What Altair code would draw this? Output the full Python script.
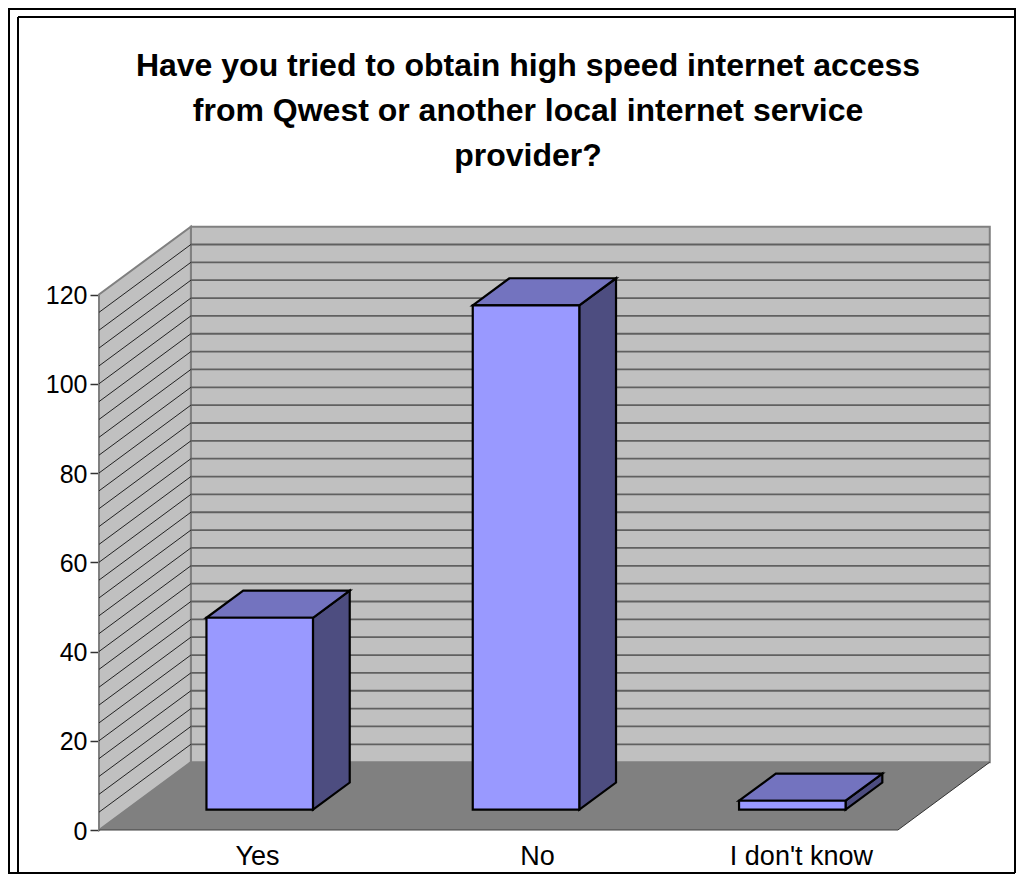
import altair as alt
import pandas as pd

# ---- values
categories = ["Yes", "No", "I don't know"]
responses = [43, 113, 2]
y_ticks = [0, 20, 40, 60, 80, 100, 120]
grid_values = list(range(4, 120, 4))
label_positions = [0.593, 1.645, 2.636]
title_lines = [
    "Have you tried to obtain high speed internet access",
    "from Qwest or another local internet service",
    "provider?",
]

# ---- oblique 3D projection, in category units (x) and response units (y)
DX, DY = 0.345, 15.2
NEAR, FAR = 0.3, 0.7
HALF = 0.2
Y_MAX = 120
FONT = "Liberation Sans"

x_scale = alt.Scale(domain=[0, 892 / 266.3], nice=False, zero=False)
y_scale = alt.Scale(domain=[0, 604 / 4.4625], nice=False, zero=False)

x_axis = alt.Axis(
    values=label_positions,
    labelExpr="datum.value < 1 ? '%s' : datum.value < 2 ? '%s' : \"%s\""
    % (categories[0], categories[1], categories[2]),
    ticks=False, domain=False, grid=False, labelFont=FONT, labelFontSize=27,
    labelColor="black", labelPadding=13, labelOverlap=False, labelFlush=False,
    labelBound=False,
)
y_axis = alt.Axis(
    values=y_ticks, ticks=True, tickSize=9, tickColor="#333333", tickWidth=1.5,
    domain=False, grid=False, labelFont=FONT, labelFontSize=25, labelColor="black",
    labelPadding=3, labelOffset=1, labelOverlap=False, labelFlush=False, labelBound=False,
)


def X(f):
    return alt.X(f, type="quantitative", scale=x_scale, axis=x_axis, title=None)


def Y(f):
    return alt.Y(f, type="quantitative", scale=y_scale, axis=y_axis, title=None)


back = pd.DataFrame([{"a": DX, "b": 3 + DX, "c": DY, "d": Y_MAX + DY}])
left = pd.DataFrame([
    {"x": d * DX, "lo": d * DY, "hi": Y_MAX + d * DY} for d in (0, 1)
])
floor = pd.DataFrame([
    {"y": d * DY, "a": d * DX, "b": 3 + d * DX} for d in (0, 1)
])
grid = pd.DataFrame({"v": grid_values})
grid["xa"] = DX
grid["xb"] = 3 + DX
grid["ya"] = grid["v"] + DY
grid["lx"] = 0.0

front_rows, top_rows, side_rows = [], [], []
for i, v in enumerate(responses):
    x0, x1 = i + 0.5 - HALF, i + 0.5 + HALF
    front_rows.append({
        "a": x0 + NEAR * DX, "b": x1 + NEAR * DX,
        "lo": NEAR * DY, "hi": v + NEAR * DY,
    })
    for d in (NEAR, FAR):
        top_rows.append({"id": i, "y": v + d * DY, "a": x0 + d * DX, "b": x1 + d * DX})
        side_rows.append({"id": i, "x": x1 + d * DX, "lo": d * DY, "hi": v + d * DY})
front = pd.DataFrame(front_rows)
top = pd.DataFrame(top_rows)
side = pd.DataFrame(side_rows)

WALL, WALL_EDGE, FLOOR = "#C0C0C0", "#808080", "#808080"
FACE, TOP, SIDE = "#9999FF", "#7373BF", "#4D4D80"

layers = [
    alt.Chart(back).mark_rect(fill=WALL, stroke=WALL_EDGE, strokeWidth=2).encode(
        x=X("a:Q"), x2="b:Q", y=Y("c:Q"), y2="d:Q"
    ),
    alt.Chart(left).mark_area(orient="vertical", fill=WALL, stroke=WALL_EDGE, strokeWidth=2).encode(
        x=X("x:Q"), y=Y("lo:Q"), y2="hi:Q"
    ),
    alt.Chart(grid).mark_rule(color="#606060", strokeWidth=1.8).encode(
        x=X("xa:Q"), x2="xb:Q", y=Y("ya:Q")
    ),
    alt.Chart(grid).mark_rule(color="#222222", strokeWidth=1).encode(
        x=X("lx:Q"), x2="xa:Q", y=Y("v:Q"), y2="ya:Q"
    ),
    alt.Chart(floor).mark_area(orient="horizontal", fill=FLOOR, strokeWidth=0).encode(
        y=Y("y:Q"), x=X("a:Q"), x2="b:Q"
    ),
    alt.Chart(pd.DataFrame([{"a": 0, "b": 3, "y": 0}])).mark_rule(color="#404040", strokeWidth=1.2).encode(
        x=X("a:Q"), x2="b:Q", y=Y("y:Q")
    ),
    alt.Chart(pd.DataFrame([{"a": 3, "b": 3 + DX, "y": 0, "y2": DY}])).mark_rule(color="#333333", strokeWidth=1).encode(
        x=X("a:Q"), x2="b:Q", y=Y("y:Q"), y2="y2:Q"
    ),
    alt.Chart(side).mark_area(orient="vertical", fill=SIDE, stroke="black", strokeWidth=2.2, strokeJoin="miter").encode(
        x=X("x:Q"), y=Y("lo:Q"), y2="hi:Q", detail="id:N"
    ),
    alt.Chart(top).mark_area(orient="horizontal", fill=TOP, stroke="black", strokeWidth=2.2, strokeJoin="miter").encode(
        y=Y("y:Q"), x=X("a:Q"), x2="b:Q", detail="id:N"
    ),
    alt.Chart(front).mark_rect(fill=FACE, stroke="black", strokeWidth=2.2).encode(
        x=X("a:Q"), x2="b:Q", y=Y("lo:Q"), y2="hi:Q"
    ),
]


# ---- frame lines, as pixel offsets from the plot area's corner (page origin 99, 226)
def hline(x0, x1, y):
    return alt.Chart(pd.DataFrame({"k": [0]})).mark_rule(color="black", strokeWidth=2).encode(
        x=alt.value(x0 - 99), x2=alt.value(x1 - 99), y=alt.value(y - 226)
    )


def vline(x, y0, y1):
    return alt.Chart(pd.DataFrame({"k": [0]})).mark_rule(color="black", strokeWidth=2).encode(
        y=alt.value(y0 - 226), y2=alt.value(y1 - 226), x=alt.value(x - 99)
    )


layers += [
    hline(8, 1015, 9),
    hline(18, 1016, 17),
    hline(8, 1015, 873),
    vline(9, 8, 873),
    vline(18, 17, 874),
    vline(1015, 8, 873),
]

# ---- the three-line title, as real text centred over the frame
for i, line in enumerate(title_lines):
    layers.append(
        alt.Chart(pd.DataFrame({"t": [line]})).mark_text(
            font=FONT, fontSize=32, fontWeight="bold", color="black",
            align="center", baseline="alphabetic",
        ).encode(text="t:N", x=alt.value(528 - 99), y=alt.value(76 + 45 * i - 226))
    )

chart = alt.layer(*layers).properties(
    width=892,
    height=604,
    background="white",
    padding={"left": 91, "top": 218, "right": 25, "bottom": 44},
    autosize=alt.AutoSizeParams(type="none"),
).configure_view(strokeWidth=0, fill="transparent")

chart.save("out.html", embed_options={"renderer": "svg", "actions": False})
